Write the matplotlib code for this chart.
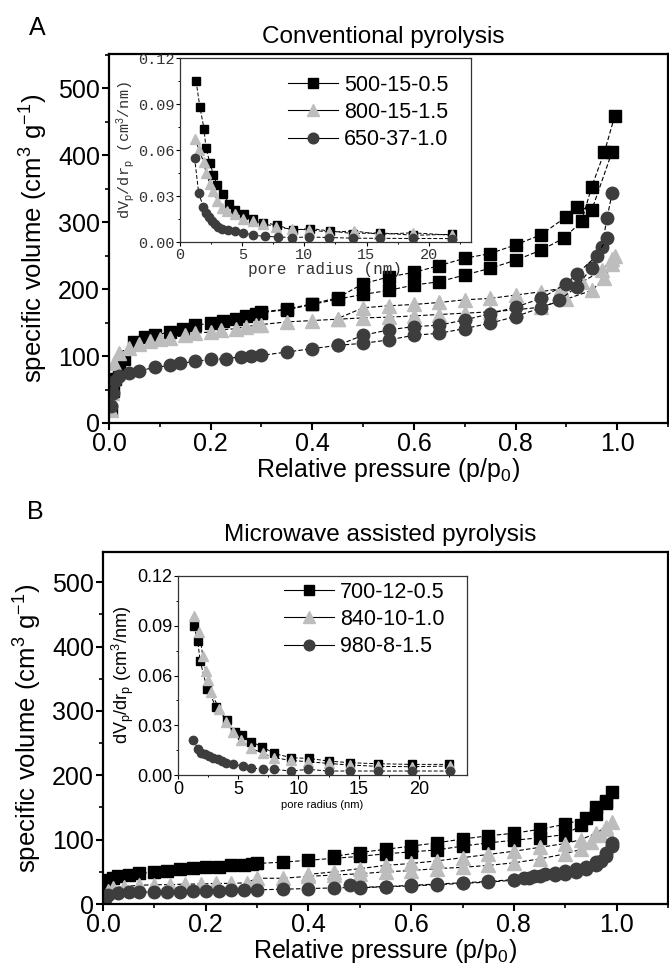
import matplotlib
matplotlib.use('Agg')
import matplotlib.pyplot as plt
from matplotlib.ticker import MultipleLocator, FormatStrFormatter

plt.rcParams['font.family'] = ['Liberation Sans', 'DejaVu Sans']
plt.rcParams['mathtext.fontset'] = 'custom'
plt.rcParams['mathtext.rm'] = 'Liberation Sans'
plt.rcParams['mathtext.it'] = 'Liberation Sans:italic'
plt.rcParams['mathtext.default'] = 'rm'

# ---------------- Panel A : conventional pyrolysis ----------------
labels_A = ['500-15-0.5', '800-15-1.5', '650-37-1.0']

a1_ads_x = [0.003, 0.007, 0.012, 0.02, 0.03, 0.05, 0.07, 0.09, 0.12, 0.145, 0.17, 0.2, 0.225, 0.25,
            0.27, 0.29, 0.30, 0.35, 0.40, 0.45, 0.50, 0.55, 0.60, 0.65, 0.70, 0.75, 0.80, 0.85,
            0.895, 0.93, 0.95, 0.975, 0.995]
a1_ads_y = [20, 48, 65, 78, 95, 121, 128, 131, 136, 141, 146, 149, 153, 156, 160, 163, 165, 169,
            177, 185, 192, 198, 206, 211, 221, 231, 243, 258, 276, 301, 353, 405, 458]
a1_des_x = [0.99, 0.95, 0.92, 0.90, 0.85, 0.80, 0.75, 0.70, 0.65, 0.60, 0.55, 0.50, 0.45, 0.40,
            0.35, 0.30]
a1_des_y = [405, 318, 323, 308, 281, 266, 253, 246, 235, 225, 218, 208, 187, 178, 170, 166]

a2_ads_x = [0.003, 0.006, 0.01, 0.02, 0.04, 0.06, 0.08, 0.10, 0.12, 0.15, 0.17, 0.20, 0.22, 0.25,
            0.27, 0.29, 0.30, 0.35, 0.40, 0.45, 0.50, 0.55, 0.60, 0.65, 0.70, 0.75, 0.80, 0.85,
            0.90, 0.95, 0.975, 0.99, 0.995]
a2_ads_y = [19, 45, 89, 105, 112, 118, 122, 125, 127, 131, 134, 136, 139, 141, 144, 146, 147,
            151, 153, 155, 157, 158, 160, 162, 164, 166, 169, 173, 185, 198, 216, 238, 250]
a2_des_x = [0.99, 0.97, 0.93, 0.89, 0.85, 0.80, 0.75, 0.70, 0.65, 0.60, 0.55, 0.50, 0.45]
a2_des_y = [245, 228, 210, 201, 196, 191, 186, 184, 180, 177, 175, 172, 156]

a3_ads_x = [0.003, 0.007, 0.012, 0.02, 0.04, 0.06, 0.09, 0.12, 0.14, 0.17, 0.2, 0.23, 0.26, 0.28,
            0.30, 0.35, 0.40, 0.45, 0.50, 0.55, 0.60, 0.65, 0.70, 0.75, 0.80, 0.85, 0.885, 0.92,
            0.95, 0.97, 0.98, 0.99]
a3_ads_y = [25, 45, 62, 70, 74, 78, 83, 86, 89, 92, 95, 96, 99, 100, 101, 106, 111, 116, 119, 124,
            131, 134, 141, 149, 159, 172, 183, 203, 232, 263, 306, 343]
a3_des_x = [0.98, 0.96, 0.92, 0.90, 0.85, 0.80, 0.75, 0.70, 0.65, 0.60, 0.55, 0.50, 0.45]
a3_des_y = [276, 250, 222, 208, 186, 173, 163, 154, 146, 144, 139, 131, 116]

# Pore size distributions (inset A)
ia_r1 = [1.29, 1.6, 1.93, 2.09, 2.41, 2.68, 3.0, 3.48, 3.96, 4.42, 5.14, 5.89, 6.69, 7.84, 9.05,
         10.44, 12.05, 13.92, 16.06, 18.74, 21.9]
ia_v1 = [0.105, 0.088, 0.074, 0.061, 0.0516, 0.044, 0.037, 0.031, 0.025, 0.021, 0.018, 0.015,
         0.0127, 0.011, 0.0077, 0.0088, 0.0072, 0.0055, 0.006, 0.0044, 0.005]
ia_r2 = [1.2, 1.55, 1.9, 2.1, 2.41, 2.68, 3.0, 3.4, 3.8, 4.4, 5.1, 5.89, 6.69, 7.75, 9.0, 10.4,
         12.0, 14.0, 16.0, 18.7, 21.9]
ia_v2 = [0.067, 0.06, 0.052, 0.045, 0.038, 0.033, 0.027, 0.022, 0.020, 0.018, 0.015, 0.014,
         0.012, 0.0099, 0.0083, 0.008, 0.0064, 0.0072, 0.005, 0.006, 0.0044]
ia_r3 = [1.17, 1.5, 1.87, 2.1, 2.3, 2.55, 2.8, 3.08, 3.4, 3.88, 4.42, 5.1, 5.89, 6.8, 7.9, 9.0,
         10.4, 12.0, 13.9, 16.1, 18.7, 21.9]
ia_v3 = [0.055, 0.032, 0.023, 0.019, 0.016, 0.014, 0.012, 0.010, 0.0088, 0.0077, 0.007, 0.006,
         0.0044, 0.0037, 0.0033, 0.0029, 0.0033, 0.0029, 0.0025, 0.0024, 0.0023, 0.0022]

# ---------------- Panel B : microwave assisted pyrolysis ----------------
labels_B = ['700-12-0.5', '840-10-1.0', '980-8-1.5']

b1_ads_x = [0.002, 0.005, 0.01, 0.02, 0.03, 0.05, 0.07, 0.1, 0.125, 0.15, 0.175, 0.2, 0.225, 0.25,
            0.275, 0.29, 0.30, 0.35, 0.40, 0.45, 0.50, 0.55, 0.60, 0.65, 0.70, 0.75, 0.80, 0.85,
            0.90, 0.93, 0.96, 0.98, 0.99]
b1_ads_y = [10, 30, 37, 40, 43, 45, 48, 49, 52, 54, 56, 57, 58, 60, 61, 62, 63, 65, 68, 71, 74,
            78, 81, 84, 90, 95, 99, 103, 108, 122, 140, 157, 174]
b1_des_x = [0.98, 0.96, 0.94, 0.90, 0.85, 0.80, 0.75, 0.70, 0.65, 0.60, 0.55, 0.50, 0.45]
b1_des_y = [160, 150, 133, 124, 116, 110, 106, 101, 95, 90, 85, 80, 74]

b2_ads_x = [0.003, 0.01, 0.02, 0.04, 0.07, 0.1, 0.13, 0.16, 0.19, 0.22, 0.25, 0.28, 0.30, 0.35,
            0.40, 0.45, 0.50, 0.55, 0.60, 0.65, 0.70, 0.75, 0.80, 0.85, 0.90, 0.93, 0.95, 0.97,
            0.98, 0.99]
b2_ads_y = [6, 20, 25, 27, 29, 30, 30, 31, 31, 32, 32, 33, 40, 40, 43, 45, 47, 50, 52, 55, 57, 60,
            64, 70, 78, 85, 97, 108, 116, 128]
b2_des_x = [0.98, 0.96, 0.93, 0.90, 0.85, 0.80, 0.75, 0.70, 0.65, 0.60, 0.55, 0.50, 0.45, 0.40]
b2_des_y = [120, 110, 100, 94, 88, 82, 77, 72, 67, 63, 60, 55, 50, 46]

b3_ads_x = [0.003, 0.01, 0.03, 0.05, 0.07, 0.1, 0.125, 0.15, 0.175, 0.2, 0.225, 0.25, 0.275, 0.30,
            0.35, 0.40, 0.45, 0.50, 0.55, 0.60, 0.65, 0.70, 0.75, 0.80, 0.83, 0.85, 0.88, 0.90,
            0.92, 0.94, 0.96, 0.97, 0.98, 0.99]
b3_ads_y = [8, 14, 17, 18, 18, 19, 19, 19, 20, 20, 20, 21, 21, 22, 23, 24, 25, 26, 27, 28, 30,
            32, 34, 37, 40, 43, 45, 47, 50, 55, 60, 67, 75, 90]
b3_des_x = [0.99, 0.98, 0.96, 0.94, 0.92, 0.90, 0.88, 0.86, 0.84, 0.82, 0.80, 0.75, 0.70, 0.65,
            0.60, 0.55, 0.50, 0.48]
b3_des_y = [95, 80, 66, 58, 55, 52, 48, 46, 43, 40, 38, 35, 33, 31, 29, 27, 25, 30]

ib_r1 = [1.31, 1.64, 1.83, 2.42, 3.17, 4.08, 4.7, 5.3, 6.08, 7.0, 8.0, 9.4, 10.9, 12.5, 14.3,
         16.6, 19.4, 22.5]
ib_v1 = [0.0898, 0.081, 0.069, 0.052, 0.041, 0.033, 0.026, 0.024, 0.020, 0.017, 0.013, 0.0104,
         0.010, 0.0084, 0.0074, 0.0068, 0.0064, 0.0064]
ib_r2 = [1.31, 1.78, 2.05, 2.3, 2.5, 2.75, 3.4, 4.0, 4.6, 5.25, 6.1, 7.05, 8.0, 9.4, 10.8, 12.5,
         14.3, 16.6, 19.4, 22.6]
ib_v2 = [0.096, 0.086, 0.072, 0.063, 0.057, 0.050, 0.040, 0.032, 0.026, 0.021, 0.016, 0.013,
         0.0104, 0.0088, 0.008, 0.007, 0.006, 0.0052, 0.005, 0.0054]
ib_r3 = [1.28, 1.64, 1.92, 2.25, 2.6, 2.94, 3.3, 3.64, 4.0, 4.55, 5.4, 6.1, 7.05, 8.0, 9.4, 10.8,
         12.5, 14.3, 16.6, 19.4, 22.6]
ib_v3 = [0.0214, 0.0158, 0.0134, 0.0124, 0.0114, 0.0104, 0.0094, 0.0084, 0.0074, 0.0064, 0.0054,
         0.0044, 0.0034, 0.0034, 0.0024, 0.0034, 0.0024, 0.0024, 0.0024, 0.0024, 0.0024]

BLACK = '#000000'
LGRAY = '#bdbdbd'
DGRAY = '#3d3d3d'
styles = [(BLACK, 's', 9.0), (LGRAY, '^', 10.5), (DGRAY, 'o', 9.0)]
inset_ms = [6.0, 7.0, 6.0]
DASH = (0, (4, 2))

fig = plt.figure(figsize=(6.69, 9.64), dpi=100)
W, H = 669.0, 964.0


def box(l, t, r, b):
    return [l / W, 1 - b / H, (r - l) / W, (b - t) / H]


def draw_main(ax, branches, ylim_top, title, title_x):
    handles = []
    for (ax_x, ax_y, dx, dy), (c, m, ms) in zip(branches, styles):
        h, = ax.plot(ax_x, ax_y, color='k', lw=0.8, ls=DASH, marker=m, mfc=c, mec=c, ms=ms)
        ax.plot(dx, dy, color='k', lw=0.8, ls=DASH, marker=m, mfc=c, mec=c, ms=ms)
        handles.append(h)
    ax.set_xlim(0, 1.1)
    ax.set_ylim(0, ylim_top)
    ax.xaxis.set_major_locator(MultipleLocator(0.2))
    ax.xaxis.set_minor_locator(MultipleLocator(0.1))
    ax.yaxis.set_major_locator(MultipleLocator(100))
    ax.yaxis.set_minor_locator(MultipleLocator(50))
    ax.xaxis.set_major_formatter(FormatStrFormatter('%.1f'))
    ax.tick_params(which='major', direction='out', length=5, width=1.5, labelsize=18, pad=1.5)
    ax.tick_params(which='minor', direction='out', length=3, width=1.2)
    ax.tick_params(axis='y', which='both', right=False)
    for s in ax.spines.values():
        s.set_linewidth(1.6)
    ax.set_xlabel(r'Relative pressure (p/p$_\mathrm{0}$)', fontsize=18, labelpad=0)
    ax.set_ylabel(r'specific volume (cm$^{3}$ g$^{-1}$)', fontsize=18.5, labelpad=6)
    ax.set_title(title, fontsize=17.5, pad=8, x=title_x)
    return handles


def draw_inset(ax, curves, xmax):
    for (r, v), (c, m, _), ms in zip(curves, styles, inset_ms):
        ax.plot(r, v, color='k', lw=0.7, ls=DASH, marker=m, mfc=c, mec=c, ms=ms)
    ax.set_xlim(0, xmax)
    ax.set_ylim(0, 0.12)
    ax.xaxis.set_major_locator(MultipleLocator(5))
    ax.xaxis.set_minor_locator(MultipleLocator(2.5))
    ax.yaxis.set_major_locator(MultipleLocator(0.03))
    ax.yaxis.set_minor_locator(MultipleLocator(0.015))
    ax.yaxis.set_major_formatter(FormatStrFormatter('%.2f'))
    for s in ax.spines.values():
        s.set_linewidth(0.9)
        s.set_color('#333333')


def add_legend(inset, handles, labels, x, y):
    leg = inset.legend(handles, labels, loc='upper left', bbox_to_anchor=(x / W, 1 - y / H),
                       bbox_transform=fig.transFigure, frameon=False, fontsize=15.5,
                       borderpad=0, handlelength=2.3, handletextpad=0.3, labelspacing=0.28,
                       borderaxespad=0, markerscale=0.85)
    for ln in leg.get_lines():
        ln.set_linestyle('-')
    return leg


# ---- Panel A ----
axA = fig.add_axes(box(109, 54, 668, 423))
hA = draw_main(axA, [(a1_ads_x, a1_ads_y, a1_des_x, a1_des_y),
                     (a2_ads_x, a2_ads_y, a2_des_x, a2_des_y),
                     (a3_ads_x, a3_ads_y, a3_des_x, a3_des_y)],
               551, 'Conventional pyrolysis', 0.49)
fig.text(37 / W, 1 - 28 / H, 'A', fontsize=18, ha='center', va='center')

inA = fig.add_axes(box(180, 58, 471, 242))
draw_inset(inA, [(ia_r1, ia_v1), (ia_r2, ia_v2), (ia_r3, ia_v3)], 23.4)
inA.tick_params(which='major', direction='out', length=3, width=0.8, labelsize=11,
                labelcolor='#333333', pad=1, labelfontfamily='Liberation Mono')
inA.tick_params(which='minor', direction='out', length=1.5, width=0.7)
inA.set_xlabel(r'pore radius (nm)', fontsize=11.5, family='Liberation Mono', color='#333333',
               labelpad=0)
inA.set_ylabel(r'dV$_\mathrm{p}$/dr$_\mathrm{p}$ (cm$^3$/nm)', fontsize=11,
               family='Liberation Mono', color='#333333', labelpad=1)
add_legend(inA, hA, labels_A, 288, 75)

# ---- Panel B ----
axB = fig.add_axes(box(103, 552, 668, 904))
hB = draw_main(axB, [(b1_ads_x, b1_ads_y, b1_des_x, b1_des_y),
                     (b2_ads_x, b2_ads_y, b2_des_x, b2_des_y),
                     (b3_ads_x, b3_ads_y, b3_des_x, b3_des_y)],
               547, 'Microwave assisted pyrolysis', 0.49)
fig.text(35 / W, 1 - 512 / H, 'B', fontsize=18, ha='center', va='center')

inB = fig.add_axes(box(178, 576, 467, 775))
draw_inset(inB, [(ib_r1, ib_v1), (ib_r2, ib_v2), (ib_r3, ib_v3)], 24.0)
inB.tick_params(which='major', direction='out', length=3, width=0.8, labelsize=13, pad=1)
inB.tick_params(which='minor', direction='out', length=1.5, width=0.7)
inB.set_xlabel('pore radius (nm)', fontsize=8, labelpad=2)
inB.set_ylabel(r'dV$_\mathrm{p}$/dr$_\mathrm{p}$ (cm$^3$/nm)', fontsize=13, labelpad=1)
add_legend(inB, hB, labels_B, 284, 582)

fig.savefig('out.png', dpi=100)
